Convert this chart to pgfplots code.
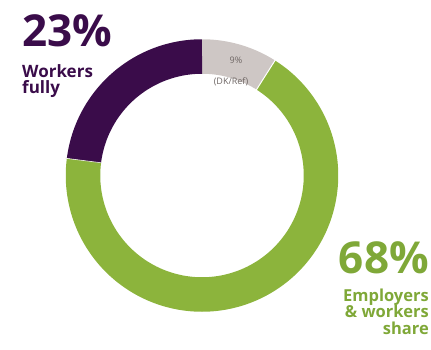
\documentclass[border=0pt]{standalone}
\usepackage{pgfplots}
\pgfplotsset{compat=1.18}
\usepackage{fontspec}
\setmainfont{Open Sans}
\definecolor{cPurple}{HTML}{3A0C4A}
\definecolor{cGreen}{HTML}{8CB43C}
\definecolor{cGreenTxt}{HTML}{7FA838}
\definecolor{cGray}{HTML}{CEC7C5}
\definecolor{cGrayTxt}{HTML}{6E6664}
% data (percent)
\def\vWork{23}
\def\vDK{9}
\def\vEmp{68}
\pgfmathsetmacro{\aA}{90}
\pgfmathsetmacro{\aB}{90-3.6*\vDK}
\pgfmathsetmacro{\aC}{90-3.6*(\vDK+\vEmp)}
\pgfmathsetmacro{\aD}{90-3.6*(\vDK+\vEmp+\vWork)}
\def\rmid{119}
\begin{document}
\begin{tikzpicture}
\begin{axis}[
  scale only axis, width=431pt, height=349pt,
  xmin=-202, xmax=229, ymin=-173.5, ymax=175.5,
  hide axis, clip=false,
]
\path (axis cs:-202,-173.5) rectangle (axis cs:229,175.5);
\addplot[cGray, line width=34.5pt, line cap=butt, domain=\aB:\aA, samples=40, variable=\t, no markers] ({\rmid*cos(\t)},{\rmid*sin(\t)});
\addplot[cGreen, line width=34.5pt, line cap=butt, domain=\aC:\aB, samples=200, variable=\t, no markers] ({\rmid*cos(\t)},{\rmid*sin(\t)});
\addplot[cPurple, line width=34.5pt, line cap=butt, domain=\aD:\aC, samples=80, variable=\t, no markers] ({\rmid*cos(\t)},{\rmid*sin(\t)});
\draw[white, line width=1pt] (axis cs:0,0) ++(\aB:101pt) -- ++(\aB:37pt);
\draw[white!85!cGreen, line width=0.6pt] (axis cs:0,0) ++(\aC:101pt) -- ++(\aC:37pt);
% labels
\node[anchor=base west, inner sep=0, text=cPurple, font=\fontsize{44}{44}\selectfont\bfseries] at (axis cs:-180,128.5) {23\%};
\node[anchor=base west, inner sep=0, text=cPurple, font=\fontsize{17}{16}\selectfont\bfseries] at (axis cs:-180,98.5) {Workers};
\node[anchor=base west, inner sep=0, text=cPurple, font=\fontsize{17}{16}\selectfont\bfseries] at (axis cs:-180,82.5) {fully};
\node[anchor=base east, inner sep=0, text=cGreenTxt, font=\fontsize{44}{44}\selectfont\bfseries] at (axis cs:227,-97.5) {68\%};
\node[anchor=base east, inner sep=0, text=cGreenTxt, font=\fontsize{16.5}{16}\selectfont\bfseries] at (axis cs:227,-126) {Employers};
\node[anchor=base east, inner sep=0, text=cGreenTxt, font=\fontsize{16.5}{16}\selectfont\bfseries] at (axis cs:227,-142) {\& workers};
\node[anchor=base east, inner sep=0, text=cGreenTxt, font=\fontsize{16.5}{16}\selectfont\bfseries] at (axis cs:227,-158.5) {share};
\node[anchor=base, inner sep=0, text=cGrayTxt, font=\fontsize{9}{9}\selectfont] at (axis cs:34,112.5) {9\%};
\node[anchor=base, inner sep=0, text=cGrayTxt, font=\fontsize{9}{9}\selectfont] at (axis cs:29,91.5) {(DK/Ref)};
\end{axis}
\end{tikzpicture}
\end{document}
